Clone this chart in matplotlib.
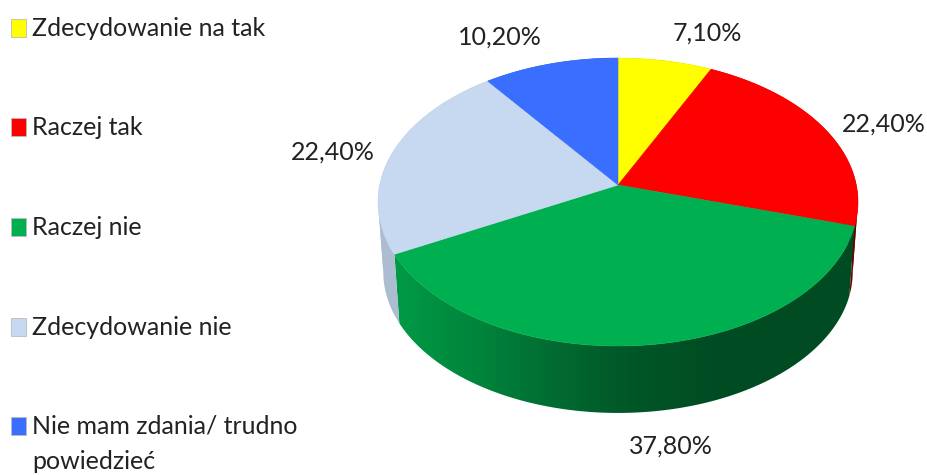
"""Pie chart with a tilted, extruded look."""
import matplotlib

matplotlib.use("Agg")
import matplotlib.pyplot as plt
import numpy as np
from matplotlib.patches import Polygon, Rectangle

CATEGORIES = [
    "Zdecydowanie na tak",
    "Raczej tak",
    "Raczej nie",
    "Zdecydowanie nie",
    "Nie mam zdania/ trudno\npowiedzieć",
]
VALUES = [7.1, 22.4, 37.8, 22.4, 10.2]
VALUE_LABELS = ["7,10%", "22,40%", "37,80%", "22,40%", "10,20%"]
COLORS = ["#FFFF00", "#FF0000", "#00B050", "#C6D9F1", "#3A6EFF"]

# where each label sits, in pixels
LABEL_POS = [(707, 33), (884, 124), (671, 446), (333, 152), (500, 37)]
LEGEND_Y = [28, 127, 227, 327, 426]

# perspective of the disc, fitted to the picture
APEX_X, APEX_Y = 618, 185
RADIUS = 238.3
TILT_A = 120.15
TILT_C = 0.118
BASE_SCALE = 0.978
VANISH_Y = 3390

FONT = ["Lato", "DejaVu Sans"]
FONT_SIZE = 18
TEXT_COLOR = "#222222"


def rim(theta):
    """Screen position of the top rim at angle theta, clockwise from 12 o'clock."""
    den = 1 + TILT_C * np.cos(theta)
    x = APEX_X + RADIUS * np.sin(theta) / den
    y = (APEX_Y - TILT_A * np.cos(theta)) / den
    return x, y


def base(theta):
    """Same rim, pushed down to the bottom of the disc."""
    x, y = rim(theta)
    return APEX_X + (x - APEX_X) * BASE_SCALE, VANISH_Y + (y - VANISH_Y) * BASE_SCALE


def shade(x):
    """Side wall gets darker from left to right."""
    return np.interp(x, [380, 397, 480, 560, 620, 700, 760], [0.87, 0.87, 0.75, 0.6, 0.5, 0.44, 0.43])


def draw_wall(ax, start, stop, color):
    # the strip folds over itself at the left and right extremes, so cut it there
    fold = np.arccos(-TILT_C)
    cuts = [a for a in (fold, 2 * np.pi - fold) if start < a < stop]
    limits = [start] + cuts + [stop]
    for low, high in zip(limits[:-1], limits[1:]):
        theta = np.linspace(low, high, 200)
        x_top, y_top = rim(theta)
        x_low, y_low = base(theta)
        outline = np.column_stack([np.r_[x_top, x_low[::-1]], np.r_[y_top, y_low[::-1]]])

        x_grad = np.arange(370, 870)
        gradient = shade(x_grad)[np.newaxis, :, np.newaxis] * np.array(matplotlib.colors.to_rgb(color))
        image = ax.imshow(gradient, extent=(370, 870, 475, 0), aspect="auto", zorder=1, interpolation="bilinear")
        image.set_clip_path(Polygon(outline, closed=True, transform=ax.transData))


def draw_top(ax, start, stop, color):
    theta = np.linspace(start, stop, 200)
    x_top, y_top = rim(theta)
    points = np.column_stack([np.r_[APEX_X, x_top], np.r_[APEX_Y, y_top]])
    ax.add_patch(Polygon(points, closed=True, facecolor=color, edgecolor=color, linewidth=0.4, zorder=2))


def main():
    fig = plt.figure(figsize=(9.27, 4.75), dpi=100)
    ax = fig.add_axes([0, 0, 1, 1])

    edges = np.cumsum([0] + VALUES) / sum(VALUES) * 2 * np.pi
    for i, color in enumerate(COLORS):
        draw_wall(ax, edges[i], edges[i + 1], color)
    for i, color in enumerate(COLORS):
        draw_top(ax, edges[i], edges[i + 1], color)

    ax.set_xlim(0, 927)
    ax.set_ylim(475, 0)
    ax.axis("off")

    for label, (x, y) in zip(VALUE_LABELS, LABEL_POS):
        ax.text(x, y, label, ha="center", va="center", fontsize=FONT_SIZE, family=FONT, color=TEXT_COLOR)

    for name, color, y in zip(CATEGORIES, COLORS, LEGEND_Y):
        ax.add_patch(Rectangle((11, y - 9), 15, 18, facecolor=color, edgecolor="#bbbbbb", linewidth=0.6))
        ax.text(
            32,
            y - 11,
            name,
            ha="left",
            va="top",
            fontsize=FONT_SIZE,
            family=FONT,
            color=TEXT_COLOR,
            linespacing=1.65,
        )

    fig.savefig("out.png", dpi=100)
    plt.close(fig)


if __name__ == "__main__":
    main()
